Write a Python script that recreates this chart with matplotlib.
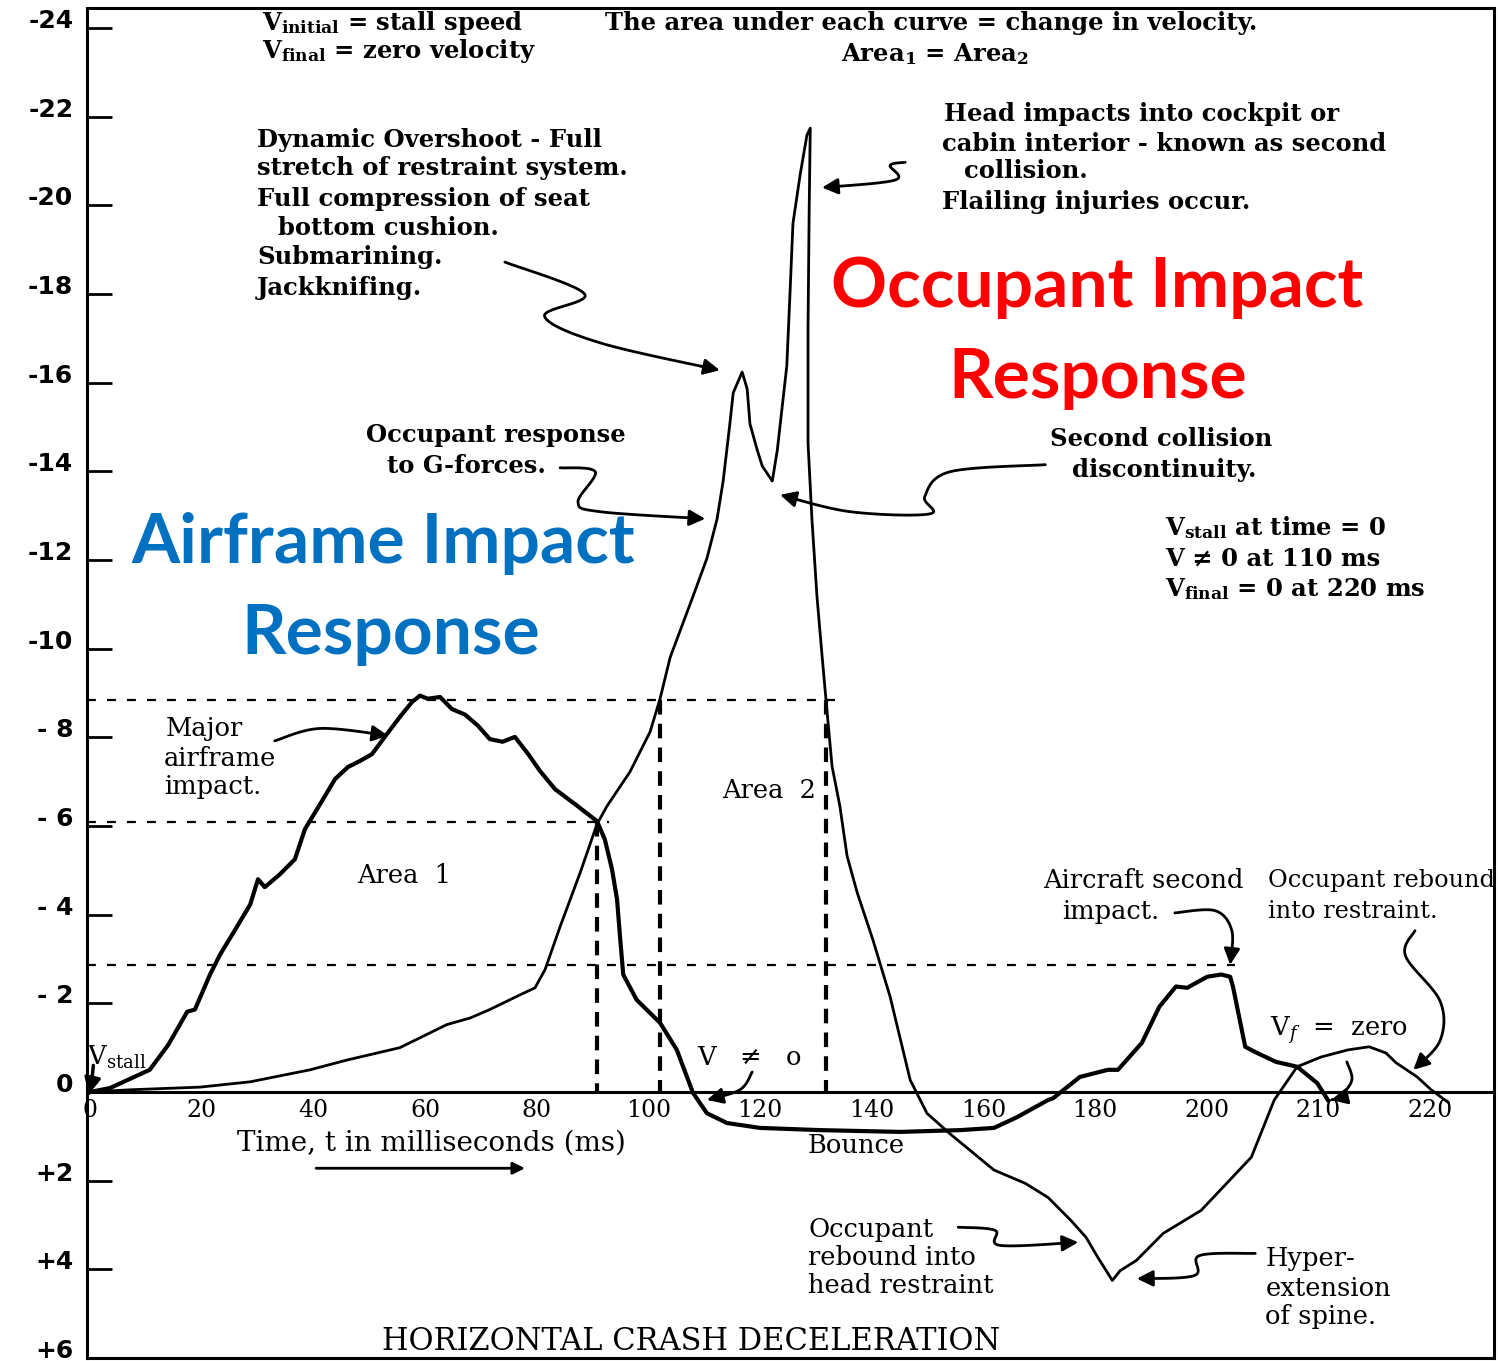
import matplotlib
matplotlib.use('Agg')
import matplotlib.pyplot as plt
import numpy as np

# time axis is drawn on the original's evenly spaced grid (labels 200, 210, 220 sit 20 apart)
x_ticks = [0, 20, 40, 60, 80, 100, 120, 140, 160, 180, 200, 220, 240]
x_labels = ['0', '20', '40', '60', '80', '100', '120', '140', '160', '180', '200', '210', '220']
y_ticks = [-24, -22, -20, -18, -16, -14, -12, -10, -8, -6, -4, -2, 0, 2, 4, 6]
y_labels = ['-24', '-22', '-20', '-18', '-16', '-14', '-12', '-10', '- 8', '- 6', '- 4', '- 2',
            '0', '+2', '+4', '+6']

# airframe (thick) curve
t_air = [0, 3.6, 10.7, 14.0, 16.1, 17.4, 18.8, 21.5, 23.3, 26.0, 28.7, 30.1, 31.3, 34.0, 36.7,
         38.5, 41.2, 43.9, 46.2, 48.4, 50.5, 52.8, 55.5, 57.7, 59.1, 60.5, 62.7, 64.8, 67.2,
         69.5, 71.6, 73.9, 76.1, 78.5, 80.6, 83.3, 86.9, 90.8, 92.2, 93.5, 94.4, 94.9, 95.5,
         97.9, 102.1, 105.1, 108.0, 110.5, 114.1, 120.0, 130.8, 145.1, 155.8, 161.9, 166.0,
         171.6, 172.5, 177.3, 182.3, 184.1, 188.4, 191.5, 194.5, 196.5, 200.1, 202.6, 204.2,
         204.7, 206.9, 208.7, 212.4, 216.2, 219.8, 221.7]
g_air = [0, -0.09, -0.50, -1.06, -1.52, -1.81, -1.86, -2.65, -3.10, -3.66, -4.23, -4.80, -4.62,
         -4.91, -5.25, -5.93, -6.49, -7.06, -7.33, -7.47, -7.62, -8.01, -8.46, -8.80, -8.94,
         -8.87, -8.91, -8.64, -8.51, -8.26, -7.96, -7.90, -8.01, -7.62, -7.24, -6.83, -6.49,
         -6.11, -5.70, -5.02, -4.34, -3.55, -2.65, -2.08, -1.56, -0.95, 0.02, 0.48, 0.70, 0.81,
         0.86, 0.90, 0.86, 0.81, 0.57, 0.18, 0.14, -0.34, -0.50, -0.50, -1.11, -1.92, -2.38,
         -2.35, -2.60, -2.65, -2.60, -2.38, -1.02, -0.90, -0.68, -0.57, -0.20, 0.18]

# occupant (thin) curve
t_occ = [0, 7.2, 19.7, 28.7, 39.4, 46.0, 55.5, 63.9, 68.1, 71.6, 77.0, 79.7, 81.5, 84.2, 87.8,
         90.8, 92.6, 96.7, 100.3, 102.1, 103.9, 108.0, 110.5, 112.3, 113.4, 114.6, 115.2,
         116.8, 117.7, 118.2, 119.5, 120.4, 122.2, 123.1, 124.8, 125.4, 125.9, 127.2, 128.4,
         129.0, 128.8, 128.6, 128.6, 129.3, 130.2, 131.1, 131.8, 132.9, 134.3, 135.6, 137.4,
         140.2, 143.3, 146.9, 149.9, 153.9, 161.9, 167.5, 171.6, 175.7, 178.4, 180.5, 183.1,
         184.5, 187.4, 192.2, 199.0, 208.0, 212.1, 216.2, 220.5, 225.3, 229.1, 232.1, 233.9,
         237.7, 240.2, 243.2]
g_occ = [0, -0.05, -0.11, -0.23, -0.50, -0.72, -1.00, -1.52, -1.67, -1.86, -2.19, -2.35, -2.76,
         -3.73, -4.95, -6.04, -6.45, -7.22, -8.12, -8.87, -9.80, -11.18, -12.04, -12.92,
         -13.78, -15.07, -15.77, -16.24, -15.86, -15.07, -14.48, -14.12, -13.78, -14.48,
         -16.38, -18.10, -19.59, -20.70, -21.58, -21.74, -19.84, -17.24, -14.64, -12.92,
         -11.18, -9.86, -8.87, -7.35, -6.45, -5.32, -4.50, -3.44, -2.15, -0.27, 0.48, 0.93,
         1.76, 2.06, 2.38, 2.90, 3.28, 3.73, 4.25, 4.03, 3.80, 3.19, 2.67, 1.47, 0.18, -0.57,
         -0.79, -0.95, -1.02, -0.88, -0.66, -0.34, -0.05, 0.23]

# dashed guide lines
h_levels = [-8.85, -6.1, -2.87]
h_ends = [133.5, 93.0, 205.0]
v_times = [90.8, 102.1, 131.8]
v_tops = [-6.1, -8.85, -8.85]

plt.rcParams['mathtext.fontset'] = 'dejavuserif'
fig = plt.figure(figsize=(14.98, 13.61), dpi=100)
ax = fig.add_axes([0.0582, 0.0022, 0.9393, 0.9919])
ax.set_xlim(-0.5, 251.5)
ax.set_ylim(6.0, -24.45)

for s in ax.spines.values():
    s.set_linewidth(2.2)
ax.spines['bottom'].set_position(('data', 0))
ax.axhline(6.0, color='k', lw=2.2, clip_on=False)

ax.set_xticks(x_ticks)
ax.set_xticklabels(x_labels, family='DejaVu Serif', fontsize=17)
ax.tick_params(axis='x', length=0, pad=5)
ax.set_yticks(y_ticks)
ax.set_yticklabels(y_labels, family='DejaVu Sans', fontsize=18, fontweight='bold')
ax.tick_params(axis='y', direction='in', length=18, width=2, pad=10)
plt.setp(ax.get_yticklabels(), va='baseline')

for lev, end in zip(h_levels, h_ends):
    ax.plot([-0.5, end], [lev, lev], color='k', lw=1.6, linestyle=(0, (4, 5)))
for t, top in zip(v_times, v_tops):
    ax.plot([t, t], [top, 0], color='k', lw=3, linestyle=(0, (3.5, 2.2)))

ax.plot(t_air, g_air, color='k', lw=3.0, solid_joinstyle='round')
ax.plot(t_occ, g_occ, color='k', lw=2.0, solid_joinstyle='round')


def smooth(pts, n=14):
    pts = np.asarray(pts, float)
    p = np.vstack([pts[0], pts, pts[-1]])
    out = []
    t = np.linspace(0, 1, n, endpoint=False)[:, None]
    for i in range(1, len(p) - 2):
        p0, p1, p2, p3 = p[i - 1], p[i], p[i + 1], p[i + 2]
        out.append(0.5 * (2 * p1 + (-p0 + p2) * t + (2 * p0 - 5 * p1 + 4 * p2 - p3) * t ** 2
                          + (-p0 + 3 * p1 - 3 * p2 + p3) * t ** 3))
    out.append(pts[-1:])
    return np.vstack(out)


def squiggle(pts, lw=2.0):
    s = smooth(pts)
    ax.plot(s[:-2, 0], s[:-2, 1], color='k', lw=lw, solid_capstyle='round')
    ax.annotate('', xy=s[-1], xytext=s[-4],
                arrowprops=dict(arrowstyle='-|>', mutation_scale=24, lw=lw, color='k',
                                shrinkA=0, shrinkB=0))


squiggle([(74.3, -18.72), (88.6, -18.0), (81.4, -17.5), (91.3, -16.9), (112.8, -16.28)])
squiggle([(146.0, -20.97), (143.3, -20.9), (144.2, -20.57), (131.1, -20.4)])
squiggle([(84.2, -14.08), (90.5, -13.99), (87.4, -13.31), (91.3, -13.09), (110.2, -12.93)])
squiggle([(171.1, -14.15), (154.0, -13.99), (149.5, -13.43), (150.4, -13.04), (136.1, -13.09),
          (123.6, -13.47)])
squiggle([(33.1, -7.92), (41.2, -8.2), (53.4, -8.04)])
squiggle([(194.3, -4.04), (201.5, -4.09), (204.5, -3.64), (204.2, -2.87)])
squiggle([(237.3, -3.64), (235.6, -3.07), (241.8, -2.05), (241.8, -1.16), (237.0, -0.5)])
squiggle([(225.1, -0.68), (226.0, -0.27), (223.9, 0.10), (222.3, 0.18)])
squiggle([(118.6, -0.45), (116.4, -0.05), (110.5, 0.18)])
squiggle([(0.6, -0.6), (0.3, -0.25), (-0.2, 0.05)], lw=2.5)
squiggle([(155.5, 3.05), (162.1, 3.12), (163.0, 3.46), (177.0, 3.39)])
squiggle([(208.7, 3.64), (198.7, 3.69), (197.8, 4.14), (187.5, 4.21)])
ax.annotate('', xy=(78.4, 1.72), xytext=(40, 1.72),
            arrowprops=dict(arrowstyle='-|>', mutation_scale=18, lw=2, color='k'))

bold = dict(family='DejaVu Serif', fontweight='bold', fontsize=17.5, va='center')
norm = dict(family='DejaVu Serif', fontsize=18.5, va='center')

ax.text(30.8, -24.12, r'V$_{\mathbf{initial}}$ = stall speed', **bold)
ax.text(30.8, -23.47, r'V$_{\mathbf{final}}$ = zero velocity', **bold)
ax.text(92.2, -24.12, 'The area under each curve = change in velocity.', **bold)
ax.text(151.4, -23.42, r'Area$_{\mathbf{1}}$ = Area$_{\mathbf{2}}$', ha='center', **bold)

for x, y, s in [(29.9, -21.48, 'Dynamic Overshoot - Full'),
                (29.9, -20.84, 'stretch of restraint system.'),
                (29.9, -20.14, 'Full compression of seat'),
                (33.7, -19.49, 'bottom cushion.'),
                (29.9, -18.84, 'Submarining.'),
                (29.9, -18.14, 'Jackknifing.'),
                (153.0, -22.06, 'Head impacts into cockpit or'),
                (152.6, -21.39, 'cabin interior - known as second'),
                (156.5, -20.77, 'collision.'),
                (152.6, -20.07, 'Flailing injuries occur.'),
                (49.4, -14.83, 'Occupant response'),
                (53.2, -14.13, 'to G-forces.'),
                (172.0, -14.74, 'Second collision'),
                (175.9, -14.04, 'discontinuity.'),
                (192.5, -12.74, r'V$_{\mathbf{stall}}$ at time = 0'),
                (192.5, -12.04, 'V ≠ 0 at 110 ms'),
                (192.5, -11.34, r'V$_{\mathbf{final}}$ = 0 at 220 ms')]:
    ax.text(x, y, s, **bold)

for x, y, s in [(13.6, -8.19, 'Major'), (13.3, -7.53, 'airframe'), (13.3, -6.88, 'impact.'),
                (47.8, -4.88, 'Area  1'), (113.2, -6.81, 'Area  2'),
                (170.7, -4.77, 'Aircraft second'), (174.1, -4.07, 'impact.'),
                (211.4, -1.40, r'V$_f$  =  zero'), (108.7, -0.77, 'V   ≠   o'),
                (-0.6, -0.77, r'V$_{\mathrm{stall}}$'),
                (128.6, 1.20, 'Bounce'),
                (128.6, 3.10, 'Occupant'), (128.6, 3.73, 'rebound into'),
                (128.6, 4.37, 'head restraint'),
                (210.5, 3.76, 'Hyper-'), (210.5, 4.43, 'extension'), (210.5, 5.07, 'of spine.')]:
    ax.text(x, y, s, **norm)
ax.text(211.0, -4.77, 'Occupant rebound', family='DejaVu Serif', fontsize=17.3, va='center')
ax.text(211.0, -4.07, 'into restraint.', family='DejaVu Serif', fontsize=17.3, va='center')
ax.text(26.3, 1.15, 'Time, t in milliseconds (ms)', family='DejaVu Serif', fontsize=20,
        va='center')
ax.text(52.3, 5.63, 'HORIZONTAL CRASH DECELERATION', family='DejaVu Serif', fontsize=22,
        va='center')

big = dict(family='Lato', fontweight='bold', fontsize=50, ha='center', va='center')
ax.text(180.4, -18.14, 'Occupant Impact', color='#FF0000', **big)
ax.text(180.4, -16.1, 'Response', color='#FF0000', **big)
ax.text(52.5, -12.37, 'Airframe Impact', color='#0070C0', **big)
ax.text(53.9, -10.33, 'Response', color='#0070C0', **big)

fig.savefig('out.png', dpi=100)
